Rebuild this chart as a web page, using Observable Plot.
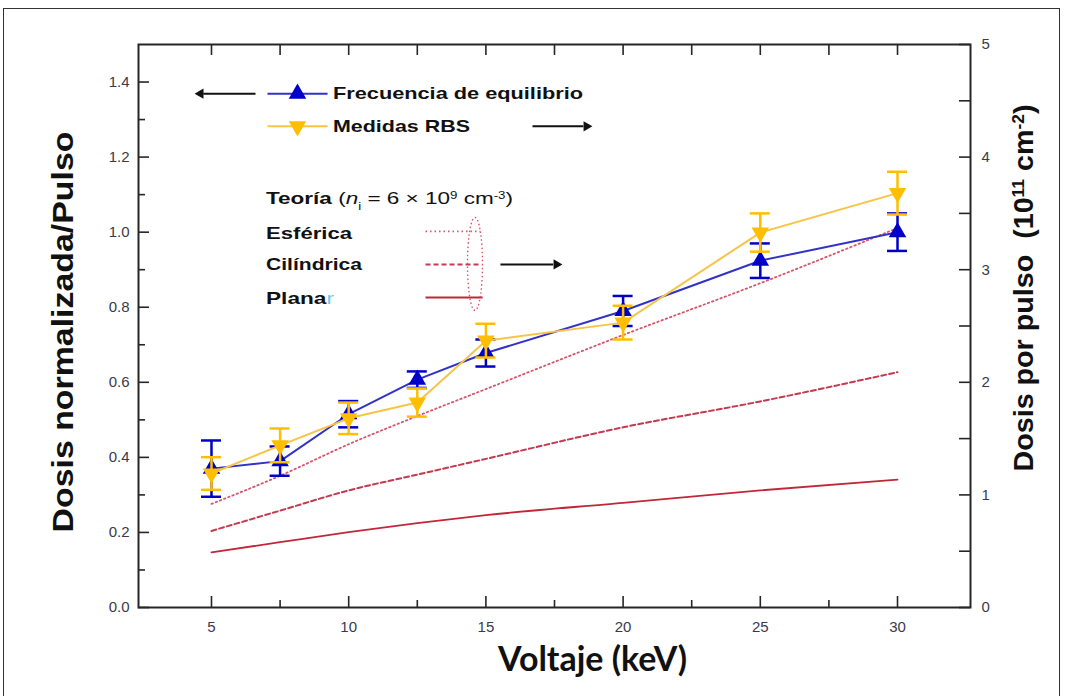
<!DOCTYPE html>
<html><head><meta charset="utf-8">
<script src="https://cdn.jsdelivr.net/npm/d3@7"></script>
<script src="https://cdn.jsdelivr.net/npm/@observablehq/plot@0.6"></script>
<style>
html,body{margin:0;padding:0;background:#fff;}
#wrap{position:relative;width:1065px;height:696px;overflow:hidden;background:#fff;}
#border{position:absolute;left:3px;top:8px;width:1057px;height:720px;border:1.5px solid #333;box-sizing:border-box;pointer-events:none;}
#chart{position:absolute;left:0;top:0;}
</style></head><body>
<div id="wrap"><div id="chart"></div><div id="border"></div></div>
<script>
// ---- data ----
const voltage = [5, 7.5, 10, 12.5, 15, 20, 25, 30];                 // keV
const freqEq = [0.37, 0.39, 0.515, 0.607, 0.678, 0.79, 0.924, 1.0];  // left axis
const freqEqErr = [0.075, 0.039, 0.035, 0.022, 0.036, 0.04, 0.046, 0.05];
const rbs = [1.19, 1.44, 1.68, 1.82, 2.37, 2.53, 3.33, 3.68];        // right axis (1e11 cm^-2)
const rbsErr = [0.145, 0.15, 0.14, 0.125, 0.15, 0.15, 0.17, 0.19];
const teoriaVoltage = [5, 7.5, 10, 12.5, 15, 20, 25, 30];
const esferica = [0.92, 1.17, 1.45, 1.70, 1.94, 2.42, 2.88, 3.37];   // right axis
const cilindrica = [0.68, 0.86, 1.04, 1.18, 1.32, 1.60, 1.83, 2.09];
const planar = [0.49, 0.58, 0.67, 0.75, 0.82, 0.93, 1.04, 1.135];

const xTicks = [5, 10, 15, 20, 25, 30];
const xMinorTicks = [7.5, 12.5, 17.5, 22.5, 27.5];
const yTicks = [0, 0.2, 0.4, 0.6, 0.8, 1.0, 1.2, 1.4];
const yMinorTicks = [0.1, 0.3, 0.5, 0.7, 0.9, 1.1, 1.3];
const y2Ticks = [0, 1, 2, 3, 4, 5];
const y2MinorTicks = [0.5, 1.5, 2.5, 3.5, 4.5];
const legendSeries = ["Frecuencia de equilibrio", "Medidas RBS"];
const legendTheory = ["Esférica", "Cilíndrica", "Plana"];

// ---- layout ----
const W = 1065, H = 696, ML = 138, MR = 95, MT = 44, MB = 89;
const FW = W - ML - MR, FH = H - MT - MB;
const K = 1.5 / 5; // right-axis unit -> left-axis unit
const F = "'Liberation Sans', Arial, sans-serif";
const BLUE = "#0000c8", BLUE_L = "#3232c8", GOLD = "#ffbf00", GOLD_L = "#f7c448";
const RED1 = "#c0283a", RED2 = "#c43a50", RED3 = "#d8566c";
const AX = "#262626", TICKTXT = "#3a3a4c";

const eq = voltage.map((v, i) => ({x: v, y: freqEq[i], e: freqEqErr[i]}));
const rb = voltage.map((v, i) => ({x: v, y: rbs[i] * K, e: rbsErr[i] * K}));
const th = (arr) => teoriaVoltage.map((v, i) => ({x: v, y: arr[i] * K}));

function errMarks(data, color) {
  return [
    Plot.ruleX(data, {x: "x", y1: d => d.y - d.e, y2: d => d.y + d.e, stroke: color, strokeWidth: 2.5}),
    Plot.ruleY(data, {x1: "x", x2: "x", y: d => d.y + d.e, insetLeft: -10, insetRight: -10, stroke: color, strokeWidth: 2.5}),
    Plot.ruleY(data, {x1: "x", x2: "x", y: d => d.y - d.e, insetLeft: -10, insetRight: -10, stroke: color, strokeWidth: 2.5})
  ];
}

// legend positions (data units)
const LY1 = 1.369, LY2 = 1.282, LT = 1.090, LE = 1.002, LC = 0.914, LP = 0.826;
const LX0 = 7.04, LX1 = 9.23, LXM = 8.134, LXT = 9.446, LXTH = 7.005;

const plot = Plot.plot({
  width: W, height: H,
  marginLeft: ML, marginRight: MR, marginTop: MT, marginBottom: MB,
  style: {fontFamily: F, background: "#fff", overflow: "visible"},
  x: {domain: [2.34, 32.66]},
  y: {domain: [0, 1.5]},
  marks: [
    // theory
    Plot.line(th(planar), {x: "x", y: "y", stroke: RED1, strokeWidth: 1.8, curve: "monotone-x"}),
    Plot.line(th(cilindrica), {x: "x", y: "y", stroke: RED2, strokeWidth: 2, strokeDasharray: "5,3", curve: "monotone-x"}),
    Plot.line(th(esferica), {x: "x", y: "y", stroke: RED3, strokeWidth: 1.8, strokeDasharray: "1.5,3", curve: "monotone-x"}),
    // blue series
    ...errMarks(eq, BLUE),
    Plot.line(eq, {x: "x", y: "y", stroke: BLUE_L, strokeWidth: 2}),
    Plot.dot(eq, {x: "x", y: "y", symbol: "triangle", r: 6.5, fill: BLUE, stroke: "none"}),
    // gold series
    ...errMarks(rb, GOLD),
    Plot.line(rb, {x: "x", y: "y", stroke: GOLD_L, strokeWidth: 2}),
    Plot.dot(rb, {x: "x", y: "y", symbol: "triangle", rotate: 180, r: 6.5, fill: GOLD, stroke: "none"}),

    // frame + ticks
    Plot.frame({stroke: AX, strokeWidth: 2}),
    Plot.ruleX(xTicks, {insetTop: FH - 11, stroke: AX, strokeWidth: 1.6}),
    Plot.ruleX(xMinorTicks, {insetTop: FH - 7, stroke: AX, strokeWidth: 1.6}),
    Plot.ruleX(xTicks, {insetBottom: FH - 11, stroke: AX, strokeWidth: 1.6}),
    Plot.ruleX(xMinorTicks, {insetBottom: FH - 11, stroke: AX, strokeWidth: 1.6}),
    Plot.ruleY(yTicks, {insetRight: FW - 11, stroke: AX, strokeWidth: 1.6}),
    Plot.ruleY(yMinorTicks, {insetRight: FW - 7, stroke: AX, strokeWidth: 1.6}),
    Plot.ruleY(y2Ticks.map(d => d * K), {insetLeft: FW - 11, stroke: AX, strokeWidth: 1.6}),
    Plot.ruleY(y2MinorTicks.map(d => d * K), {insetLeft: FW - 11, stroke: AX, strokeWidth: 1.6}),
    Plot.axisX({ticks: xTicks, tickSize: 0, tickPadding: 14, label: null, fontSize: 15, fill: TICKTXT}),
    Plot.axisY({ticks: yTicks, tickSize: 0, tickPadding: 9, label: null, fontSize: 15, fill: TICKTXT, tickFormat: d3.format(".1f")}),
    Plot.axisY({anchor: "right", ticks: y2Ticks.map(d => d * K), tickSize: 0, tickPadding: 11, label: null, fontSize: 15, fill: TICKTXT, tickFormat: d => String(Math.round(d / K))}),

    // legend: series samples
    Plot.link([0], {x1: 6.604, x2: 4.70, y1: LY1, y2: LY1, stroke: "#111", strokeWidth: 2}),
    Plot.dot([0], {x: 4.60, y: LY1, symbol: "triangle", rotate: -90, r: 3.8, fill: "#111"}),
    Plot.link([0], {x1: LX0, x2: LX1, y1: LY1, y2: LY1, stroke: BLUE_L, strokeWidth: 2}),
    Plot.dot([0], {x: LXM, y: LY1, symbol: "triangle", r: 6.5, fill: BLUE}),
    Plot.link([0], {x1: LX0, x2: LX1, y1: LY2, y2: LY2, stroke: GOLD_L, strokeWidth: 2}),
    Plot.dot([0], {x: LXM, y: LY2, symbol: "triangle", rotate: 180, r: 6.5, fill: GOLD}),
    Plot.link([0], {x1: 16.698, x2: 18.55, y1: LY2, y2: LY2, stroke: "#111", strokeWidth: 2}),
    Plot.dot([0], {x: 18.666, y: LY2, symbol: "triangle", rotate: 90, r: 3.8, fill: "#111"}),

    // legend: theory samples
    Plot.link([0], {x1: 12.80, x2: 14.80, y1: LE, y2: LE, stroke: RED3, strokeWidth: 1.8, strokeDasharray: "1.5,3"}),
    Plot.link([0], {x1: 12.80, x2: 14.80, y1: LC, y2: LC, stroke: RED2, strokeWidth: 2, strokeDasharray: "5,3"}),
    Plot.link([0], {x1: 12.80, x2: 14.88, y1: LP, y2: LP, stroke: RED1, strokeWidth: 1.8}),
    Plot.link([0], {x1: 15.53, x2: 17.45, y1: LC, y2: LC, stroke: "#111", strokeWidth: 2}),
    Plot.dot([0], {x: 17.573, y: LC, symbol: "triangle", rotate: 90, r: 3.8, fill: "#111"})
  ]
});

document.getElementById("chart").appendChild(plot);

// text pieces placed through the plot's scales
const sx = plot.scale("x"), sy = plot.scale("y");
const svg = d3.select(plot);

function addText(x, y, opts = {}) {
  const t = svg.append("text")
    .attr("x", x).attr("y", y).attr("dy", "0.35em")
    .attr("text-anchor", opts.anchor || "start")
    .style("font-family", opts.family || F)
    .style("font-size", (opts.size || 17) + "px")
    .attr("font-weight", opts.weight || "bold")
    .attr("fill", opts.fill || "#111");
  if (opts.transform) t.attr("transform", opts.transform).attr("x", 0).attr("y", 0);
  if (opts.len) t.attr("textLength", opts.len).attr("lengthAdjust", "spacingAndGlyphs");
  if (opts.text) t.text(opts.text);
  return t;
}

// ellipse grouping the theory legend samples
svg.append("ellipse")
  .attr("cx", sx.apply(14.62)).attr("cy", sy.apply(LC))
  .attr("rx", 7.5).attr("ry", 46.5)
  .attr("fill", "none").attr("stroke", RED3).attr("stroke-width", 1.4).attr("stroke-dasharray", "1.5,2.5");

// series legend texts
addText(sx.apply(LXT), sy.apply(LY1), {text: legendSeries[0], len: 250});
addText(sx.apply(LXT), sy.apply(LY2), {text: legendSeries[1], len: 137});

// theory legend
const t = addText(sx.apply(LXTH), sy.apply(LT), {weight: "normal", len: 247});
t.append("tspan").attr("font-weight", "bold").text("Teoría ");
t.append("tspan").text("(");
t.append("tspan").attr("font-style", "italic").text("n");
t.append("tspan").attr("font-size", "10px").attr("baseline-shift", "sub").text("i");
t.append("tspan").text(" = 6 × 10");
t.append("tspan").attr("font-size", "10px").attr("baseline-shift", "super").text("9");
t.append("tspan").text(" cm");
t.append("tspan").attr("font-size", "10px").attr("baseline-shift", "super").text("-3");
t.append("tspan").text(")");
addText(sx.apply(LXTH), sy.apply(LE - 0.006), {text: legendTheory[0], len: 86});
addText(sx.apply(LXTH), sy.apply(LC), {text: legendTheory[1], len: 96});
const p = addText(sx.apply(LXTH), sy.apply(LP - 0.003), {len: 68});
p.append("tspan").text(legendTheory[2]);
p.append("tspan").attr("fill", "#7cc4e8").attr("font-weight", "normal").text("r");

// axis titles
addText(0, 0, {text: "Dosis normalizada/Pulso", anchor: "middle", size: 29, len: 401,
  transform: `translate(62.5,332) rotate(-90)`});
addText(0, 0, {text: "Voltaje (keV)", anchor: "middle", size: 34, family: "Lato", len: 189,
  transform: `translate(592.5,659)`});
const r = addText(0, 0, {anchor: "middle", size: 28, len: 367,
  transform: `translate(${ML + FW + 53},288) rotate(-90)`});
r.append("tspan").text("Dosis por pulso\u00a0\u00a0(10");
r.append("tspan").attr("font-size", "17px").attr("baseline-shift", "super").text("11");
r.append("tspan").text(" cm");
r.append("tspan").attr("font-size", "17px").attr("baseline-shift", "super").text("-2");
r.append("tspan").text(")");
</script>
</body></html>
